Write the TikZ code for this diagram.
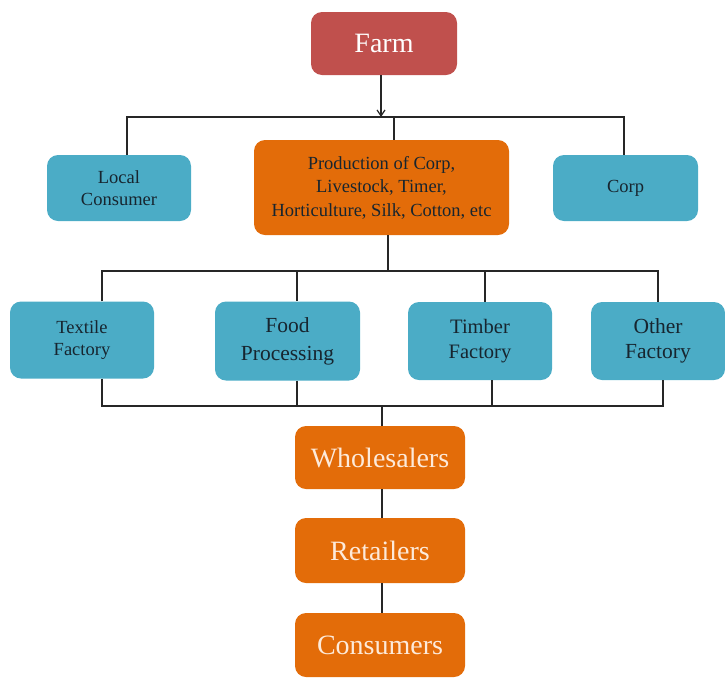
\documentclass[tikz,border=0pt]{standalone}
\usepackage{fontspec}
\setmainfont{Liberation Serif}
\usetikzlibrary{arrows.meta}
\definecolor{farmred}{HTML}{C0504D}
\definecolor{teal}{HTML}{4BACC6}
\definecolor{orng}{HTML}{E36C09}
\definecolor{darktxt}{HTML}{17252F}
\definecolor{cream}{HTML}{FDEADA}
\tikzset{
  box/.style={rounded corners=11pt, inner sep=0pt, align=center, draw=none},
  redbox/.style={box, fill=farmred, text=white},
  tealbox/.style={box, fill=teal, text=darktxt},
  orbox/.style={box, fill=orng},
  link/.style={draw=black!85, line width=1.2pt},
  fsmall/.style={font=\fontsize{18.5}{22}\selectfont},
  fbig/.style={font=\fontsize{28}{32}\selectfont}
}
\begin{document}
\begin{tikzpicture}[x=1pt,y=-1pt]
\useasboundingbox (0,0) rectangle (725,678);
% nodes
\node[redbox, fbig, minimum width=146pt, minimum height=63pt] (farm) at (384,43.5) {Farm};
\node[tealbox, fsmall, minimum width=144pt, minimum height=66pt] (local) at (119,188) {Local\\Consumer};
\node[orbox, text=darktxt, font=\fontsize{18.5}{23.5}\selectfont, minimum width=255pt, minimum height=95pt] (prod) at (381.5,187.5) {Production of Corp,\\Livestock, Timer,\\Horticulture, Silk, Cotton, etc};
\node[tealbox, fsmall, minimum width=145pt, minimum height=66pt] (corp) at (625.5,188) {Corp};
\node[tealbox, fsmall, minimum width=144pt, minimum height=77pt] (textile) at (82,340) {Textile\\Factory};
\node[tealbox, font=\fontsize{21.5}{28}\selectfont, minimum width=145pt, minimum height=79pt] (food) at (287.5,341) {Food\\Processing};
\node[tealbox, font=\fontsize{20.5}{25}\selectfont, minimum width=144pt, minimum height=78pt] (timber) at (480,341) {Timber\\Factory};
\node[tealbox, font=\fontsize{21.5}{25}\selectfont, minimum width=134pt, minimum height=78pt] (other) at (658,341) {Other\\Factory};
\node[orbox, text=cream, fbig, minimum width=170pt, minimum height=63pt] (whole) at (380,457.5) {Wholesalers};
\node[orbox, text=cream, fbig, minimum width=170pt, minimum height=65pt] (retail) at (380,550.5) {Retailers};
\node[orbox, text=cream, fbig, minimum width=170pt, minimum height=64pt] (cons) at (380,645) {Consumers};
% bus coordinates
\coordinate (t1) at (127,117);
\coordinate (t2) at (394,117);
\coordinate (t3) at (624,117);
\coordinate (m0) at (388,271);
\coordinate (m1) at (102,271);
\coordinate (m2) at (297,271);
\coordinate (m3) at (485,271);
\coordinate (m4) at (658,271);
\coordinate (l1) at (102,406);
\coordinate (l2) at (297,406);
\coordinate (l3) at (492,406);
\coordinate (l4) at (663,406);
\coordinate (l0) at (382,406);
% top level
\draw[link, -{Straight Barb[length=6pt,width=8pt]}] ([xshift=-3pt]farm.south) -- ([xshift=-3pt]farm.south |- t1);
\draw[link] (t1 |- local.north) -- (t1) -- (t3) -- (t3 |- corp.north);
\draw[link] (t2) -- (t2 |- prod.north);
% middle bus
\draw[link] (m0 |- prod.south) -- (m0);
\draw[link] (m1 |- textile.north) -- (m1) -- (m4) -- (m4 |- other.north);
\draw[link] (m2) -- (m2 |- food.north);
\draw[link] (m3) -- (m3 |- timber.north);
% lower bus
\draw[link] (l1 |- textile.south) -- (l1) -- (l4) -- (l4 |- other.south);
\draw[link] (l2 |- food.south) -- (l2);
\draw[link] (l3 |- timber.south) -- (l3);
\draw[link] (l0) -- (l0 |- whole.north);
\draw[link] (l0 |- whole.south) -- (l0 |- retail.north);
\draw[link] (l0 |- retail.south) -- (l0 |- cons.north);
\end{tikzpicture}
\end{document}
